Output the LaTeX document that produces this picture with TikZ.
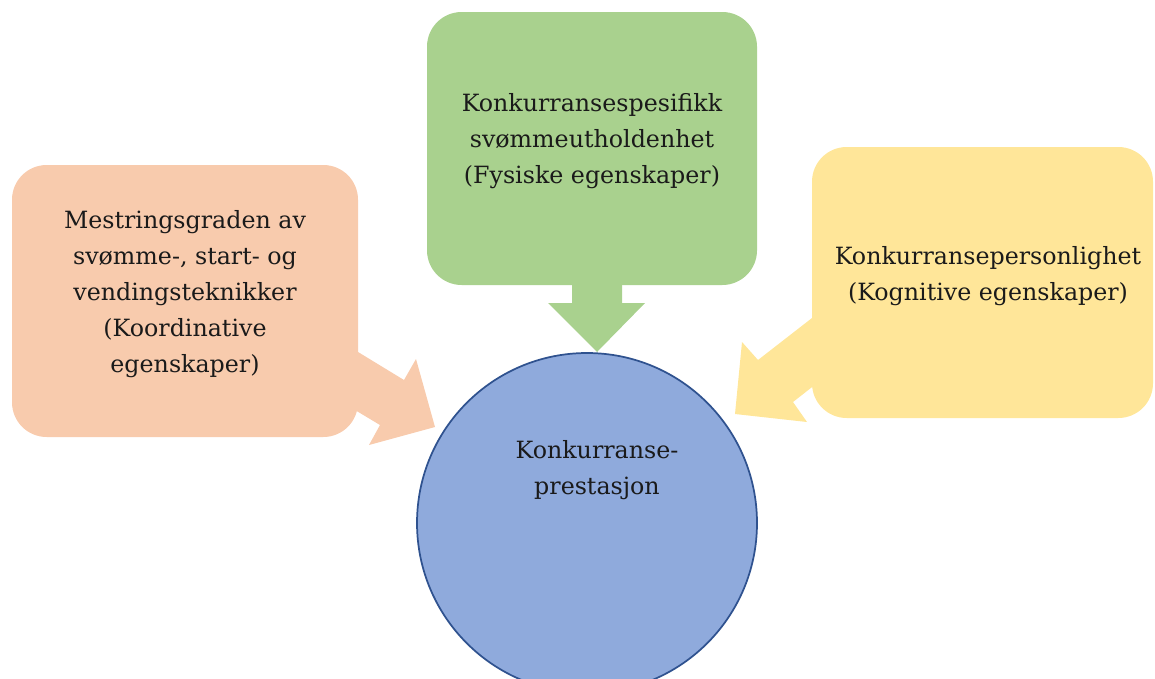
\documentclass[tikz,border=0pt]{standalone}
\usepackage{fontspec}
\setmainfont{DejaVu Serif}
\definecolor{orng}{HTML}{F8CBAD}
\definecolor{grn}{HTML}{A9D18E}
\definecolor{ylw}{HTML}{FFE699}
\definecolor{blu}{HTML}{8FAADC}
\definecolor{bluedge}{HTML}{2F528F}
\definecolor{txt}{HTML}{1A1A1A}
\tikzset{
  callbox/.style={rounded corners=26pt, inner sep=0pt},
  lbl/.style={align=center, text=txt, inner sep=0pt, font=\fontsize{17.8pt}{27pt}\selectfont}
}
\begin{document}
\begin{tikzpicture}[x=0.75pt,y=-0.75pt]
\useasboundingbox (0,0) rectangle (1155,678);
\clip (0,0) rectangle (1155,678);
% arrows (part of the callouts)
\fill[orng] (340,341) -- (404,380) -- (416,359) -- (435,427) -- (369,445) -- (380,425) -- (340,401) -- cycle;
\fill[grn] (572,280) -- (572,303) -- (548,303) -- (597,352) -- (645,303) -- (622,303) -- (622,280) -- cycle;
\fill[ylw] (830,304) -- (758,360) -- (742,342) -- (735,414) -- (807,422) -- (793,402) -- (830,373) -- cycle;
% boxes
\node[callbox, fill=orng, minimum width=259.5pt, minimum height=204pt] (koord) at (185,301) {};
\node[callbox, fill=grn, minimum width=247.5pt, minimum height=204.75pt] (fys) at (592,148.5) {};
\node[callbox, fill=ylw, minimum width=255.75pt, minimum height=203.25pt] (kogn) at (982.5,282.5) {};
\node[lbl] (koordtxt) at (185,294)
  {Mestringsgraden av\\svømme-, start- og\\vendingsteknikker\\(Koordinative\\egenskaper)};
\node[lbl] (fystxt) at (592,141)
  {Konkurransespesifikk\\svømmeutholdenhet\\(Fysiske egenskaper)};
\node[lbl] (kogntxt) at (988,276)
  {Konkurransepersonlighet\\(Kognitive egenskaper)};
% circle
\node[circle, fill=blu, draw=bluedge, line width=1.3pt, minimum size=255pt, inner sep=0pt] (prest) at (587,523) {};
\node[lbl] (prestlbl) at (597,470) {Konkurranse-\\prestasjon};
\end{tikzpicture}
\end{document}
